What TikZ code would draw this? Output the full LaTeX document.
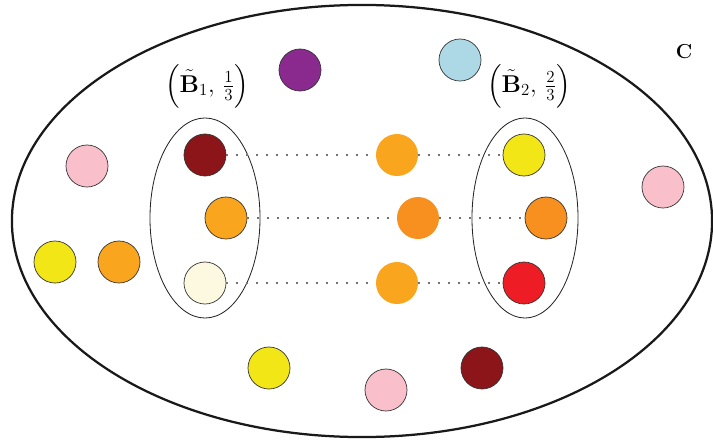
\documentclass[tikz,border=0pt]{standalone}
\usepackage{amsmath}
\usepackage{tikz}
\usetikzlibrary{shapes.geometric}
\definecolor{ballPurple}{HTML}{8B2A8E}
\definecolor{ballBlue}{HTML}{ADD8E6}
\definecolor{ballPink}{HTML}{F9C0CB}
\definecolor{ballYellow}{HTML}{F2E616}
\definecolor{ballOrange}{HTML}{F9A51E}
\definecolor{ballDeep}{HTML}{F7901E}
\definecolor{ballDark}{HTML}{8B1519}
\definecolor{ballCream}{HTML}{FDF9E0}
\definecolor{ballRed}{HTML}{EE1C25}
\tikzset{
    ball/.style={
        circle,
        draw=black!80,
        line width=0.5pt,
        minimum size=1.05cm,
        inner sep=0pt
    },
    bare/.style={
        circle,
        minimum size=1.05cm,
        inner sep=0pt
    },
    group/.style={
        ellipse,
        draw=black!85,
        line width=0.6pt,
        inner sep=0pt
    },
    link/.style={
        draw=black!55,
        line width=1.1pt,
        dash pattern=on 1.1pt off 6pt
    }
}

\begin{document}
\begin{tikzpicture}[x=0.025cm, y=-0.025cm]
    \useasboundingbox (0,0) rectangle (713,448);

    % Outer set
    \node[ellipse, draw=black!90, line width=1.6pt, minimum width=17.5cm, minimum height=10.8cm, inner sep=0pt] (set) at (362,221) {};
    \node[font=\Large] (setlab) at (684,52) {$\mathbf{C}$};

    % Groups
    \node[group, minimum width=2.75cm, minimum height=5cm] (grpA) at (205,218) {};
    \node[group, minimum width=2.65cm, minimum height=5cm] (grpB) at (525,218) {};
    \node[font=\LARGE] (labA) at (207,86) {$\Bigl(\tilde{\mathbf{B}}_1,\, \tfrac{1}{3}\Bigr)$};
    \node[font=\LARGE] (labB) at (529,86) {$\Bigl(\tilde{\mathbf{B}}_2,\, \tfrac{2}{3}\Bigr)$};

    % Members of the first group
    \node[ball, fill=ballDark] (a1) at (205,155) {};
    \node[ball, fill=ballOrange] (a2) at (226,218) {};
    \node[ball, fill=ballCream] (a3) at (205,283) {};

    % Members of the second group
    \node[ball, fill=ballYellow] (b1) at (524,155) {};
    \node[ball, fill=ballDeep] (b2) at (546,218) {};
    \node[ball, fill=ballRed] (b3) at (524,283) {};

    % Middle column
    \node[bare, fill=ballOrange] (m1) at (397,155) {};
    \node[bare, fill=ballDeep] (m2) at (418,218) {};
    \node[bare, fill=ballOrange] (m3) at (397,283) {};

    % Other elements
    \node[ball, fill=ballPurple] (e1) at (300,70) {};
    \node[ball, fill=ballBlue] (e2) at (460,60) {};
    \node[ball, fill=ballPink] (e3) at (87,166) {};
    \node[ball, fill=ballYellow] (e4) at (55,262) {};
    \node[ball, fill=ballOrange] (e5) at (119,262) {};
    \node[ball, fill=ballPink] (e6) at (663,187) {};
    \node[ball, fill=ballYellow] (e7) at (269,368) {};
    \node[ball, fill=ballPink] (e8) at (386,390) {};
    \node[ball, fill=ballDark] (e9) at (482,368) {};

    % Connections
    \draw[link] (a1) -- (m1);
    \draw[link] (m1) -- (b1);
    \draw[link] (a2) -- (m2);
    \draw[link] (m2) -- (b2);
    \draw[link] (a3) -- (m3);
    \draw[link] (m3) -- (b3);
\end{tikzpicture}
\end{document}
